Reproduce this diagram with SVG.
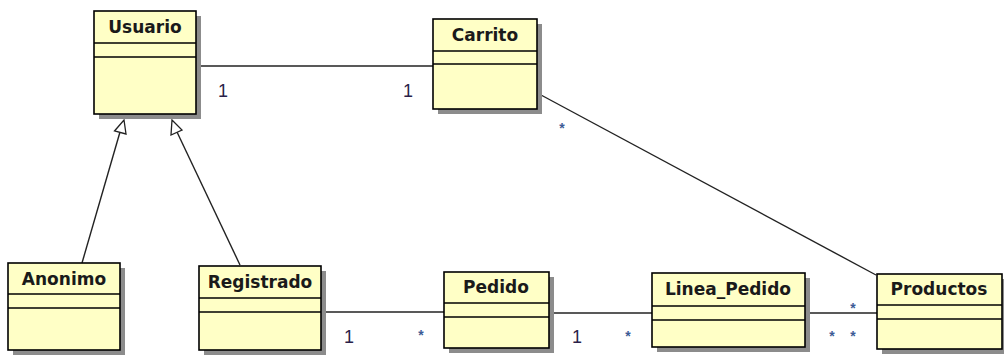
<svg xmlns="http://www.w3.org/2000/svg" width="1004" height="356" viewBox="0 0 1004 356">
  <style>
    .shadow { fill: #8c8c8c; }
    .box { fill: #ffffc6; stroke: #000; stroke-width: 1.6; }
    .sep { stroke: #000; stroke-width: 1.6; }
    .title { font-family: "DejaVu Sans", "Liberation Sans", sans-serif; font-weight: bold; font-size: 17px; fill: #1a1a1a; text-anchor: middle; }
    .conn { fill: none; stroke: #222; stroke-width: 1.4; }
    .gen { fill: #fff; stroke: #222; stroke-width: 1.3; }
    .one { font-family: "Liberation Sans", Arial, sans-serif; font-size: 18px; fill: #2a1f4a; text-anchor: middle; }
    .many { font-family: "Liberation Sans", Arial, sans-serif; font-weight: bold; font-size: 14px; fill: #3d5c96; text-anchor: middle; }
  </style>

  <!-- associations and generalizations -->
  <g id="connectors">
    <line class="conn" x1="201" y1="66" x2="433" y2="66"/>
    <line class="conn" x1="541" y1="95" x2="876" y2="275"/>
    <line class="conn" x1="326" y1="312" x2="444" y2="312"/>
    <line class="conn" x1="554" y1="313" x2="652" y2="313"/>
    <line class="conn" x1="810" y1="313" x2="877" y2="313"/>
    <line class="conn" x1="82" y1="263" x2="120" y2="132"/>
    <polygon class="gen" points="124,120 126,134 114.5,131"/>
    <line class="conn" x1="240" y1="265" x2="177" y2="132"/>
    <polygon class="gen" points="172,120 182,130 171,135"/>

    <text class="one" x="223" y="97">1</text>
    <text class="one" x="408" y="97">1</text>
    <text class="many" x="562" y="133">*</text>
    <text class="one" x="349" y="343">1</text>
    <text class="many" x="421" y="340">*</text>
    <text class="one" x="577" y="343">1</text>
    <text class="many" x="628" y="341">*</text>
    <text class="many" x="853" y="313">*</text>
    <text class="many" x="832" y="341">*</text>
    <text class="many" x="853" y="341">*</text>
  </g>

  <g id="usuario">
    <rect class="shadow" x="99" y="16" width="102" height="103"/>
    <rect class="box" x="94" y="11" width="102" height="103"/>
    <line class="sep" x1="94" y1="43" x2="196" y2="43"/>
    <line class="sep" x1="94" y1="57" x2="196" y2="57"/>
    <text class="title" x="145" y="33">Usuario</text>
  </g>

  <g id="carrito">
    <rect class="shadow" x="438" y="24" width="104" height="90"/>
    <rect class="box" x="433" y="19" width="104" height="90"/>
    <line class="sep" x1="433" y1="51" x2="537" y2="51"/>
    <line class="sep" x1="433" y1="64" x2="537" y2="64"/>
    <text class="title" x="485" y="41">Carrito</text>
  </g>

  <g id="anonimo">
    <rect class="shadow" x="13" y="268" width="112" height="87"/>
    <rect class="box" x="8" y="263" width="112" height="87"/>
    <line class="sep" x1="8" y1="294" x2="120" y2="294"/>
    <line class="sep" x1="8" y1="308" x2="120" y2="308"/>
    <text class="title" x="64" y="285">Anonimo</text>
  </g>

  <g id="registrado">
    <rect class="shadow" x="204" y="271" width="122" height="84"/>
    <rect class="box" x="199" y="266" width="122" height="84"/>
    <line class="sep" x1="199" y1="298" x2="321" y2="298"/>
    <line class="sep" x1="199" y1="312" x2="321" y2="312"/>
    <text class="title" x="260" y="288">Registrado</text>
  </g>

  <g id="pedido">
    <rect class="shadow" x="449" y="277" width="105" height="76"/>
    <rect class="box" x="444" y="272" width="105" height="76"/>
    <line class="sep" x1="444" y1="303" x2="549" y2="303"/>
    <line class="sep" x1="444" y1="317" x2="549" y2="317"/>
    <text class="title" x="496" y="293">Pedido</text>
  </g>

  <g id="linea_pedido">
    <rect class="shadow" x="657" y="278" width="153" height="74"/>
    <rect class="box" x="652" y="273" width="153" height="74"/>
    <line class="sep" x1="652" y1="306" x2="805" y2="306"/>
    <line class="sep" x1="652" y1="320" x2="805" y2="320"/>
    <text class="title" x="728" y="295">Linea_Pedido</text>
  </g>

  <g id="productos">
    <rect class="shadow" x="882" y="279" width="125" height="75"/>
    <rect class="box" x="877" y="274" width="125" height="75"/>
    <line class="sep" x1="877" y1="305" x2="1002" y2="305"/>
    <line class="sep" x1="877" y1="319" x2="1002" y2="319"/>
    <text class="title" x="939" y="295">Productos</text>
  </g>
</svg>
